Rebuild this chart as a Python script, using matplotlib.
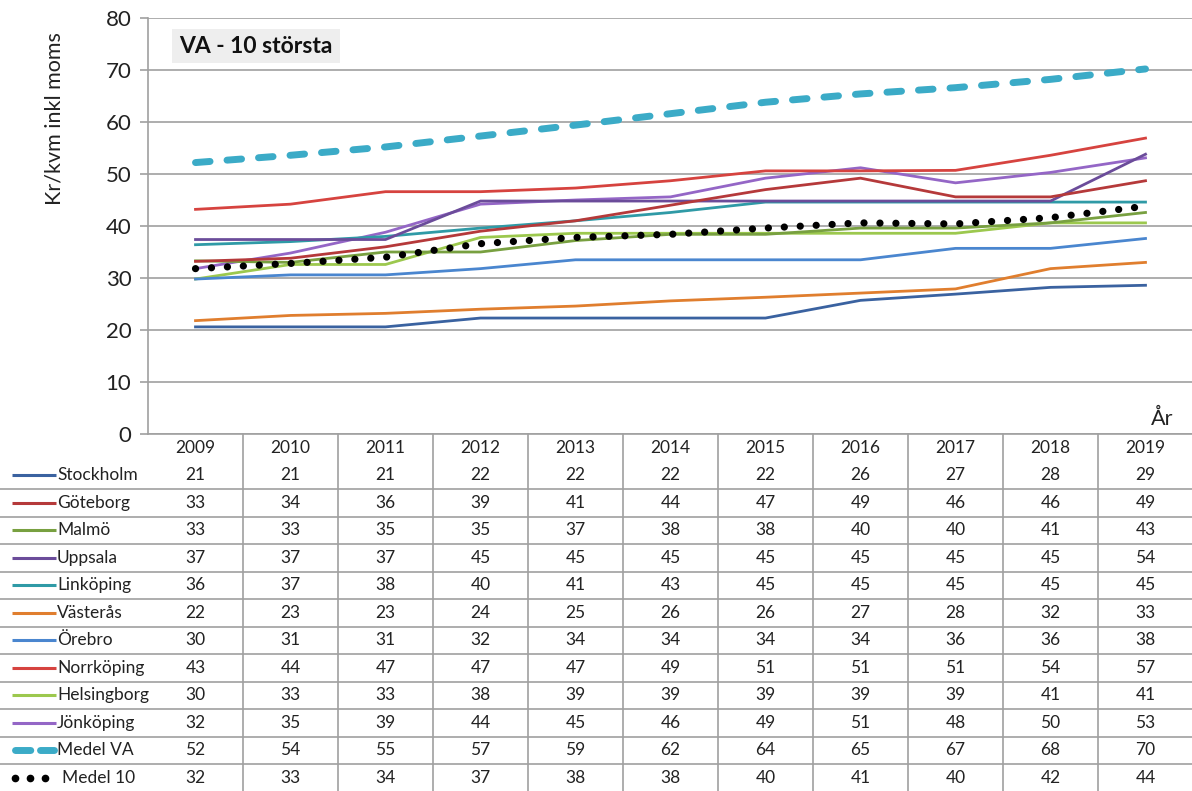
import matplotlib
matplotlib.use("Agg")
import matplotlib.pyplot as plt
from matplotlib.transforms import blended_transform_factory
import numpy as np

plt.rcParams['font.family'] = ['Lato', 'DejaVu Sans']

years = [2009, 2010, 2011, 2012, 2013, 2014, 2015, 2016, 2017, 2018, 2019]

# values (table shows them rounded)
stockholm = [20.6, 20.6, 20.6, 22.3, 22.3, 22.3, 22.3, 25.7, 26.9, 28.2, 28.6]
goteborg = [33.2, 33.8, 36.0, 39.0, 41.0, 44.0, 47.0, 49.2, 45.6, 45.6, 48.7]
malmo = [33.3, 33.0, 35.0, 35.0, 37.2, 38.4, 38.4, 39.6, 39.6, 40.6, 42.6]
uppsala = [37.4, 37.4, 37.4, 44.8, 44.8, 44.8, 44.8, 44.8, 44.8, 44.8, 53.8]
linkoping = [36.4, 37.0, 38.0, 39.6, 41.0, 42.6, 44.6, 44.6, 44.6, 44.6, 44.6]
vasteras = [21.8, 22.8, 23.2, 24.0, 24.6, 25.6, 26.3, 27.1, 27.9, 31.8, 33.0]
orebro = [29.8, 30.6, 30.6, 31.8, 33.5, 33.5, 33.5, 33.5, 35.7, 35.7, 37.6]
norrkoping = [43.2, 44.2, 46.6, 46.6, 47.3, 48.7, 50.6, 50.6, 50.7, 53.6, 56.9]
helsingborg = [29.8, 32.6, 32.6, 37.8, 38.6, 38.6, 38.6, 38.6, 38.6, 40.6, 40.6]
jonkoping = [31.8, 34.8, 38.8, 44.2, 45.0, 45.6, 49.2, 51.2, 48.3, 50.3, 53.1]
medel_va = [52.2, 53.6, 55.2, 57.3, 59.4, 61.6, 63.8, 65.4, 66.6, 68.2, 70.2]
medel_10 = [31.8, 32.8, 34.0, 36.6, 37.8, 38.4, 39.6, 40.6, 40.4, 41.6, 43.8]

names = ["Stockholm", "Göteborg", "Malmö", "Uppsala", "Linköping", "Västerås",
         "Örebro", "Norrköping", "Helsingborg", "Jönköping", "Medel VA", "Medel 10"]
series = [stockholm, goteborg, malmo, uppsala, linkoping, vasteras,
          orebro, norrkoping, helsingborg, jonkoping, medel_va, medel_10]
colors = ["#3A62A0", "#B5393A", "#78A040", "#6B4C9A", "#2F9AA6", "#E07E2E",
          "#4A86CF", "#D6433F", "#9CC84E", "#9466C6", "#3BABC7", "#000000"]

W, H = 1192, 791
fig = plt.figure(figsize=(W / 100, H / 100), dpi=100)
x0, x1 = 148, 1193
ytop, ybot = 18, 434
ax = fig.add_axes([x0 / W, 1 - ybot / H, (x1 - x0) / W, (ybot - ytop) / H])

x = np.arange(len(years))
grid_c = "#A0A0A0"
dash_va = (0, (2.1, 2.45))
dots_10 = (0, (0.01, 2.2))

# draw cities in reverse so Stockholm ends on top
for i in range(9, -1, -1):
    ax.plot(x, series[i], color=colors[i], lw=2.0, solid_joinstyle='round', zorder=3)
ax.plot(x, medel_10, color="black", lw=5.2, linestyle=dots_10,
        dash_capstyle='round', zorder=4)
ax.plot(x, medel_va, color=colors[10], lw=5, linestyle=dash_va,
        dash_capstyle='round', zorder=4)

ax.set_xlim(-0.5, 10.5)
ax.set_ylim(0, 80)
ax.set_yticks(range(0, 81, 10))
ax.set_xticks([])
ax.yaxis.grid(True, color=grid_c, lw=1.2)
ax.set_axisbelow(True)
for s in ["top", "right"]:
    ax.spines[s].set_visible(False)
ax.spines["left"].set_color(grid_c)
ax.spines["bottom"].set_color(grid_c)
ax.spines["left"].set_linewidth(1.2)
ax.spines["bottom"].set_linewidth(1.2)
ax.tick_params(axis='y', length=6, width=1.2, color=grid_c, labelsize=16, pad=6,
               labelcolor="#222222")

ax.text(-0.17, 74.6, "VA - 10 största", fontsize=16.5, fontweight='bold',
        va='center', ha='left', color="#111111",
        bbox=dict(facecolor="#EEEEEE", edgecolor='none', pad=5))
ax.text(10.18, 1.0, "År", fontsize=15.5, ha='center', va='bottom', color="#222222")

fig.text(55 / W, 1 - 119 / H, "Kr/kvm inkl moms", rotation=90, fontsize=15.5,
         ha='center', va='center', color="#222222")

# data table under the chart
row_h = 27.5
tax = fig.add_axes([x0 / W, 0, (x1 - x0) / W, (H - ybot) / H])
tax.set_xlim(-0.5, 10.5)
tax.set_ylim((H - ybot) / row_h, 0)
tax.axis('off')
ftr = blended_transform_factory(fig.transFigure, tax.transData)

for j in range(1, 11):
    tax.plot([j - 0.5, j - 0.5], [0, 14], color=grid_c, lw=1.2, clip_on=False)
for r in range(2, 14):
    tax.plot([0, 1], [r, r], color=grid_c, lw=1.2, transform=ftr, clip_on=False)
for j, yr in enumerate(years):
    tax.text(j, 0.5, str(yr), ha='center', va='center', fontsize=12.5, color="#222222")

for i, (nm, vals) in enumerate(zip(names, series)):
    yc = i + 1.5
    for j, v in enumerate(vals):
        tax.text(j, yc, f"{v:.0f}", ha='center', va='center', fontsize=12.5, color="#222222")
    if i < 10:
        tax.plot([12 / W, 56 / W], [yc, yc], color=colors[i], lw=2.2, transform=ftr,
                 clip_on=False, solid_capstyle='butt')
        tax.text(57 / W, yc, nm, ha='left', va='center', fontsize=12.5, color="#222222",
                 transform=ftr)
    elif i == 10:
        tax.plot([15 / W, 54 / W], [yc, yc], color=colors[i], lw=5, transform=ftr,
                 clip_on=False, linestyle=(0, (2.2, 1.4)), dash_capstyle='round')
        tax.text(57 / W, yc, nm, ha='left', va='center', fontsize=12.5, color="#222222",
                 transform=ftr)
    else:
        tax.plot([15 / W, 30 / W, 45 / W], [yc, yc, yc], 'o', color="black", ms=4.5,
                 transform=ftr, clip_on=False)
        tax.text(62 / W, yc, nm, ha='left', va='center', fontsize=12.5, color="#222222",
                 transform=ftr)

fig.savefig("out.png", dpi=100)
